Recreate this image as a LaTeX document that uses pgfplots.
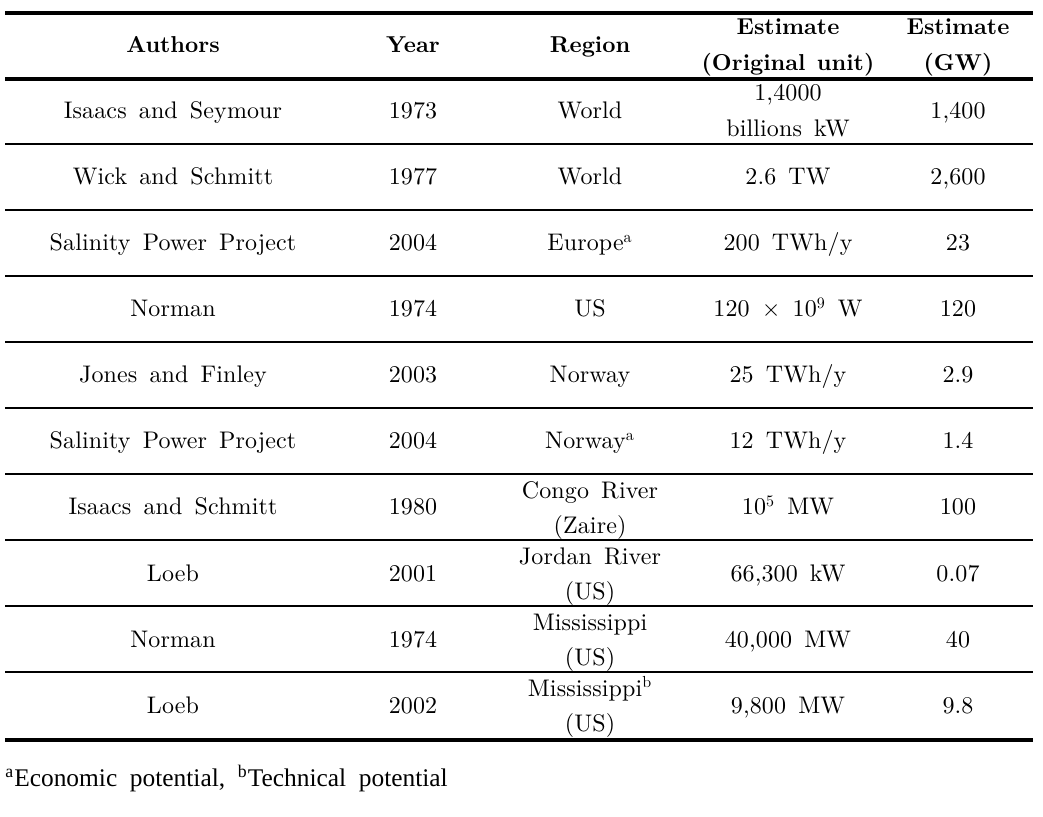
\documentclass[border=0pt]{standalone}
\usepackage{fontspec}
\usepackage{pgfplots}
\pgfplotsset{compat=1.18}
\newfontfamily\bodyfont{lmroman10-regular}[Extension=.otf, LetterSpace=0.5, WordSpace=1.5]
\newfontfamily\headfont{lmroman10-bold}[Extension=.otf, WordSpace=1.3]
\newfontfamily\notefont{Liberation Serif}[WordSpace=2]
\begin{document}
\begin{tikzpicture}
\begin{axis}[
  width=521.5pt, height=408.5pt, scale only axis,
  xmin=0, xmax=1043, ymin=0, ymax=817, y dir=reverse,
  hide axis, clip=false,
  cell/.style={draw=none, mark=none, forget plot, nodes near coords,
    point meta=explicit symbolic, nodes near coords align={anchor=base},
    every node near coord/.append style={anchor=base, inner sep=0pt,
      font=\fontsize{12}{14}\selectfont\bodyfont, text=black}},
  head/.style={cell, every node near coord/.append style={font=\fontsize{11.5}{13}\selectfont\headfont}},
  rule/.style={black, mark=none, forget plot, line width=#1},
]
\path (axis cs:0,0) rectangle (axis cs:1043,817);
% rules
\addplot[rule=2pt] coordinates {(5,13) (1033,13)};
\addplot[rule=2pt] coordinates {(5,79) (1033,79)};
\addplot[rule=0.8pt] coordinates {(5,144) (1033,144)};
\addplot[rule=0.8pt] coordinates {(5,210) (1033,210)};
\addplot[rule=0.8pt] coordinates {(5,276) (1033,276)};
\addplot[rule=0.8pt] coordinates {(5,342) (1033,342)};
\addplot[rule=0.8pt] coordinates {(5,408) (1033,408)};
\addplot[rule=0.8pt] coordinates {(5,474) (1033,474)};
\addplot[rule=0.8pt] coordinates {(5,540) (1033,540)};
\addplot[rule=0.8pt] coordinates {(5,606) (1033,606)};
\addplot[rule=0.8pt] coordinates {(5,672) (1033,672)};
\addplot[rule=2pt] coordinates {(5,740) (1033,740)};
% header
\addplot[head] coordinates {
  (173,53) [Authors]
  (413,53) [Year]
  (590,53) [Region]
  (788,35) [Estimate]
  (788,71) [(Original unit)]
  (958,35) [Estimate]
  (958,71) [(GW)]
};
% Authors
\addplot[cell] coordinates {
  (173,119) [Isaacs and Seymour]
  (173,185) [Wick and Schmitt]
  (173,251) [Salinity Power Project]
  (173,317) [Norman]
  (173,383) [Jones and Finley]
  (173,449) [Salinity Power Project]
  (173,515) [Isaacs and Schmitt]
  (173,581) [Loeb]
  (173,647) [Norman]
  (173,713) [Loeb]
};
% Year
\addplot[cell] coordinates {
  (413,119) [1973]
  (413,185) [1977]
  (413,251) [2004]
  (413,317) [1974]
  (413,383) [2003]
  (413,449) [2004]
  (413,515) [1980]
  (413,581) [2001]
  (413,647) [1974]
  (413,713) [2002]
};
% Region
\addplot[cell] coordinates {
  (590,119) [World]
  (590,185) [World]
  (590,251) [{Europe\textsuperscript{a}}]
  (590,317) [US]
  (590,383) [Norway]
  (590,449) [{Norway\textsuperscript{a}}]
  (590,498) [Congo River]
  (590,533) [(Zaire)]
  (590,564) [Jordan River]
  (590,599) [(US)]
  (590,630) [Mississippi]
  (590,665) [(US)]
  (590,696) [{Mississippi\textsuperscript{b}}]
  (590,731) [(US)]
};
% Estimate (original unit)
\addplot[cell] coordinates {
  (788,101) [{1,4000}]
  (788,137) [billions kW]
  (788,185) [2.6 TW]
  (788,251) [200 TWh/y]
  (788,317) [{120 $\times$ 10\textsuperscript{9} W}]
  (788,383) [25 TWh/y]
  (788,449) [12 TWh/y]
  (788,515) [{10\textsuperscript{5} MW}]
  (788,581) [{66,300 kW}]
  (788,647) [{40,000 MW}]
  (788,713) [{9,800 MW}]
};
% Estimate (GW)
\addplot[cell] coordinates {
  (958,119) [{1,400}]
  (958,185) [{2,600}]
  (958,251) [23]
  (958,317) [120]
  (958,383) [2.9]
  (958,449) [1.4]
  (958,515) [100]
  (958,581) [0.07]
  (958,647) [40]
  (958,713) [9.8]
};
% footnote
\addplot[cell, every node near coord/.append style={anchor=base west, font=\fontsize{12.7}{14}\selectfont\notefont}] coordinates {
  (5,786) [{\textsuperscript{a}Economic potential, \textsuperscript{b}Technical potential}]
};
\end{axis}
\end{tikzpicture}
\end{document}
